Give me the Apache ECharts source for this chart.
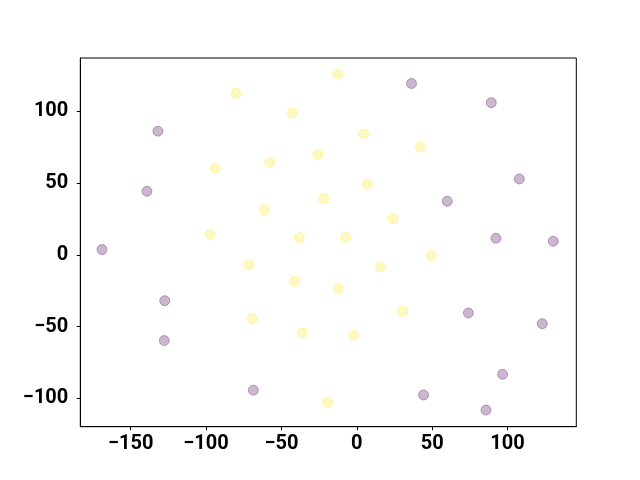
<!DOCTYPE html>
<html>
<head>
<meta charset="utf-8">
<script src="https://cdn.jsdelivr.net/npm/echarts@6/dist/echarts.min.js"></script>
<style>html,body{margin:0;padding:0;background:#fff}#c{width:640px;height:480px}</style>
</head>
<body>
<div id="c"></div>
<script>
var purpleX = [36.3, 89.2, -131.9, -139.2, 107.8, 60.0, 92.3, 130.3, -169.0, -127.4, -127.7, 74.0, 123.0, 96.7, -68.6, 44.3, 85.7];
var purpleY = [119.3, 106.0, 86.1, 44.2, 52.8, 37.3, 11.5, 9.4, 3.6, -32.0, -59.8, -40.6, -48.0, -83.3, -94.4, -97.7, -108.2];
var yellowX = [-12.7, -80.1, -42.8, 4.6, 41.9, -25.9, -57.8, -94.0, 7.0, -22.0, -61.1, 24.0, -97.4, -38.1, -7.4, 49.4, -71.5, 15.8, -41.2, -12.3, 30.6, -69.3, -36.1, -2.1, -19.3];
var yellowY = [126.0, 112.5, 98.8, 84.2, 75.1, 70.0, 64.4, 60.3, 49.1, 39.1, 31.4, 25.2, 14.3, 11.9, 12.2, -0.6, -7.1, -8.5, -18.5, -23.8, -39.4, -44.5, -54.5, -56.1, -102.8];
var xTicks = [-150, -100, -50, 0, 50, 100];
var yTicks = [-100, -50, 0, 50, 100];

function pairs(xs, ys) { return xs.map(function (x, i) { return [x, ys[i]]; }); }
function fmt(v) { return String(v).replace('-', '\u2212'); }

var chart = echarts.init(document.getElementById('c'), null, { renderer: 'canvas' });
var labelStyle = { color: '#000', fontFamily: 'Roboto', fontWeight: 'bold', fontSize: 20, formatter: fmt };
chart.setOption({
  animation: false,
  grid: { left: 80.3, right: 63.7, top: 58, bottom: 53.3, show: true, borderColor: '#000', borderWidth: 1, backgroundColor: 'transparent' },
  xAxis: {
    type: 'value', min: -183.4, max: 145.6,
    splitLine: { show: false },
    axisLine: { show: true, onZero: false, lineStyle: { color: '#000', width: 1 } },
    axisTick: { show: true, length: 3.5, customValues: xTicks, lineStyle: { color: '#000', width: 1 } },
    axisLabel: Object.assign({ margin: 7, customValues: xTicks }, labelStyle)
  },
  yAxis: {
    type: 'value', min: -119.8, max: 137.1,
    splitLine: { show: false },
    axisLine: { show: true, onZero: false, lineStyle: { color: '#000', width: 1 } },
    axisTick: { show: true, length: 3.5, customValues: yTicks, lineStyle: { color: '#000', width: 1 } },
    axisLabel: Object.assign({ margin: 12, customValues: yTicks }, labelStyle)
  },
  series: [
    {
      type: 'scatter', symbolSize: 10, data: pairs(purpleX, purpleY),
      itemStyle: { color: 'rgba(68,1,84,0.35)', borderColor: 'rgba(68,1,84,0.4)', borderWidth: 1 }
    },
    {
      type: 'scatter', symbolSize: 10, data: pairs(yellowX, yellowY),
      itemStyle: { color: 'rgba(253,231,37,0.35)', borderColor: 'rgba(253,231,37,0.4)', borderWidth: 1 }
    }
  ]
});
</script>
</body>
</html>
